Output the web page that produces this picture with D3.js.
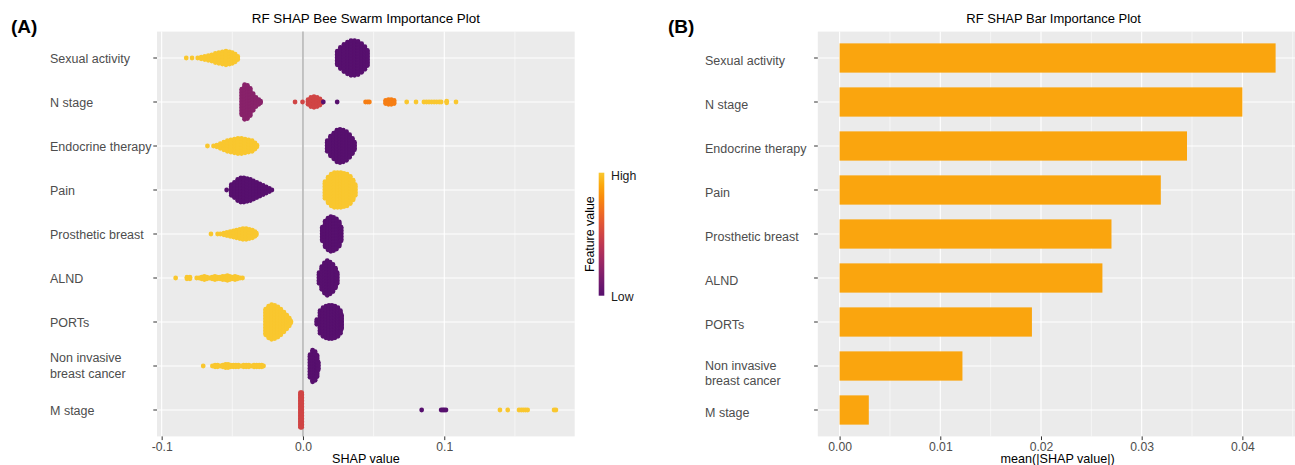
<!DOCTYPE html>
<head>
    <meta charset="utf-8">
    <script src="https://d3js.org/d3.v7.min.js"></script>
    <style>
        body {
            margin: 0;
            background: #fff;
        }
        svg {
            font-family: "Liberation Sans", Arial, sans-serif;
        }
    </style>
</head>

<body>
<svg id="chart" width="1295" height="465"></svg>
<script>

    const features = ["Sexual activity", "N stage", "Endocrine therapy", "Pain", "Prosthetic breast",
        "ALND", "PORTs", "Non invasive\nbreast cancer", "M stage"];
    const meanAbsShap = [0.0433, 0.0400, 0.0345, 0.0319, 0.0270, 0.0261, 0.0191, 0.0122, 0.0029];

    const shapTicks = [-0.1, 0, 0.1];
    const shapTickLabels = ["-0.1", "0.0", "0.1"];
    const shapMinor = [-0.05, 0.05, 0.15];
    const meanTicks = [0, 0.01, 0.02, 0.03, 0.04];
    const meanTickLabels = ["0.00", "0.01", "0.02", "0.03", "0.04"];
    const meanMinor = [0.005, 0.015, 0.025, 0.035, 0.045];

    // swarm bins per feature: level = feature value (0 low .. 1 high), bins = [SHAP value, number of points]
    const swarmSexual = [
        {level: 1, bins: [[-0.0826, 1], [-0.0785, 1], [-0.0745, 1], [-0.0720, 2], [-0.0695, 3], [-0.0670, 4], [-0.0645, 5],
                [-0.0620, 7], [-0.0595, 8], [-0.0570, 9], [-0.0545, 10], [-0.0520, 9], [-0.0500, 8], [-0.0480, 6], [-0.0462, 3]]},
        {level: 0, bins: [[0.0243, 10], [0.0265, 15], [0.0290, 19], [0.0315, 22], [0.0340, 24], [0.0365, 24], [0.0390, 23],
                [0.0415, 20], [0.0438, 16], [0.0456, 11]]}
    ];
    const swarmNStage = [
        {level: 0.2, bins: [[-0.0433, 18], [-0.0413, 24], [-0.0393, 23], [-0.0373, 19], [-0.0353, 12], [-0.0333, 7],
                [-0.0313, 4], [-0.0300, 2]]},
        {level: 0.5, bins: [[-0.0056, 1], [-0.0003, 1], [0.0036, 4], [0.0056, 7], [0.0078, 8], [0.0100, 7], [0.0120, 5], [0.0133, 2]]},
        {level: 0, bins: [[0.0144, 1], [0.0242, 1]]},
        {level: 0.75, bins: [[0.0443, 1], [0.0458, 1], [0.0470, 1], [0.0585, 3], [0.0605, 4], [0.0625, 4], [0.0645, 3]]},
        {level: 1, bins: [[0.0734, 1], [0.0800, 1], [0.0856, 1], [0.0874, 1], [0.0892, 1], [0.0910, 1], [0.0928, 1],
                [0.0946, 1], [0.0964, 1], [0.0978, 1], [0.1017, 2], [0.1083, 1]]}
    ];
    const swarmEndocrine = [
        {level: 1, bins: [[-0.0676, 1], [-0.0633, 1], [-0.0610, 2], [-0.0585, 4], [-0.0560, 6], [-0.0535, 8], [-0.0510, 9],
                [-0.0485, 10], [-0.0460, 11], [-0.0435, 11], [-0.0410, 10], [-0.0385, 9], [-0.0360, 8], [-0.0340, 5], [-0.0326, 2]]},
        {level: 0, bins: [[0.0172, 8], [0.0195, 14], [0.0218, 18], [0.0240, 22], [0.0262, 23], [0.0285, 22], [0.0308, 20],
                [0.0330, 16], [0.0350, 11], [0.0364, 6]]}
    ];
    const swarmPain = [
        {level: 0, bins: [[-0.0540, 1], [-0.0507, 8], [-0.0485, 11], [-0.0462, 15], [-0.0440, 17], [-0.0418, 17], [-0.0395, 16],
                [-0.0372, 15], [-0.0350, 13], [-0.0327, 11], [-0.0305, 9], [-0.0282, 7], [-0.0260, 5], [-0.0238, 3], [-0.0220, 1]]},
        {level: 1, bins: [[0.0156, 12], [0.0178, 18], [0.0200, 22], [0.0222, 24], [0.0245, 24], [0.0268, 24], [0.0290, 23],
                [0.0312, 22], [0.0335, 19], [0.0355, 14], [0.0370, 8]]}
    ];
    const swarmProsthetic = [
        {level: 1, bins: [[-0.0651, 1], [-0.0604, 1], [-0.0585, 1], [-0.0560, 2], [-0.0538, 3], [-0.0515, 4], [-0.0492, 5],
                [-0.0470, 6], [-0.0447, 7], [-0.0425, 8], [-0.0402, 8], [-0.0380, 7], [-0.0358, 6], [-0.0340, 4], [-0.0330, 2]]},
        {level: 0, bins: [[0.0137, 10], [0.0157, 18], [0.0177, 22], [0.0197, 24], [0.0217, 23], [0.0237, 21], [0.0257, 17],
                [0.0270, 10]]}
    ];
    const swarmALND = [
        {level: 1, bins: [[-0.0901, 1], [-0.0821, 2], [-0.0800, 2], [-0.0752, 1], [-0.0735, 1], [-0.0717, 2], [-0.0698, 3],
                [-0.0680, 2], [-0.0662, 1], [-0.0643, 2], [-0.0623, 3], [-0.0605, 2], [-0.0587, 2], [-0.0568, 3], [-0.0550, 3],
                [-0.0535, 4], [-0.0518, 3], [-0.0500, 2], [-0.0481, 3], [-0.0463, 2], [-0.0445, 1], [-0.0428, 1]]},
        {level: 0, bins: [[0.0114, 8], [0.0133, 16], [0.0152, 21], [0.0172, 24], [0.0192, 22], [0.0212, 19], [0.0230, 14],
                [0.0242, 8]]}
    ];
    const swarmPORTs = [
        {level: 1, bins: [[-0.0264, 18], [-0.0243, 22], [-0.0222, 24], [-0.0200, 23], [-0.0178, 21], [-0.0157, 18],
                [-0.0135, 14], [-0.0115, 10], [-0.0097, 6], [-0.0086, 2]]},
        {level: 0, bins: [[0.0098, 4], [0.0121, 16], [0.0142, 20], [0.0163, 22], [0.0184, 23], [0.0205, 23], [0.0226, 22],
                [0.0247, 20], [0.0265, 16], [0.0273, 10]]}
    ];
    const swarmNonInvasive = [
        {level: 1, bins: [[-0.0706, 1], [-0.0641, 1], [-0.0622, 2], [-0.0604, 2], [-0.0585, 1], [-0.0567, 2], [-0.0548, 3],
                [-0.0530, 3], [-0.0512, 2], [-0.0493, 2], [-0.0475, 2], [-0.0457, 2], [-0.0438, 1], [-0.0420, 2], [-0.0402, 2],
                [-0.0383, 2], [-0.0365, 1], [-0.0347, 2], [-0.0328, 2], [-0.0310, 2], [-0.0292, 2], [-0.0279, 1]]},
        {level: 0, bins: [[0.0050, 16], [0.0068, 22], [0.0086, 20], [0.0100, 15], [0.0108, 6]]}
    ];
    const swarmMStage = [
        {level: 0.5, bins: [[-0.0018, 24], [-0.0009, 24]]},
        {level: 0, bins: [[0.0840, 1], [0.0978, 1], [0.0990, 1], [0.1000, 1], [0.1012, 1]]},
        {level: 1, bins: [[0.1394, 1], [0.1449, 1], [0.1529, 1], [0.1545, 1], [0.1560, 1], [0.1575, 1], [0.1590, 1],
                [0.1777, 1], [0.1790, 1]]}
    ];
    const swarms = [swarmSexual, swarmNStage, swarmEndocrine, swarmPain, swarmProsthetic,
        swarmALND, swarmPORTs, swarmNonInvasive, swarmMStage];

    const svg = d3.select("#chart");
    const panelBg = "#EBEBEB", axisText = "#4D4D4D", tickCol = "#333333";
    const color = t => d3.interpolateInferno(0.25 + 0.62 * t);

    const A = {left: 157, right: 574.7, top: 31.6, bottom: 436.4};
    const B = {left: 817.8, right: 1297.4, top: 31.6, bottom: 436.4};

    const y = d3.scalePoint().domain(features).range([58, 410]);
    const xA = d3.scaleLinear().domain([-0.1033, 0.1923]).range([A.left, A.right]);
    const xB = d3.scaleLinear().domain([-0.002165, 0.045465]).range([B.left, B.right]);

    function panel(P, x, minor, major) {
        const g = svg.append("g");
        g.append("rect").attr("x", P.left).attr("y", P.top)
            .attr("width", P.right - P.left).attr("height", P.bottom - P.top).attr("fill", panelBg);
        g.selectAll(".minor").data(minor).enter().append("line")
            .attr("x1", d => x(d)).attr("x2", d => x(d)).attr("y1", P.top).attr("y2", P.bottom)
            .attr("stroke", "#fff").attr("stroke-width", 0.55);
        g.selectAll(".majorx").data(major).enter().append("line")
            .attr("x1", d => x(d)).attr("x2", d => x(d)).attr("y1", P.top).attr("y2", P.bottom)
            .attr("stroke", "#fff").attr("stroke-width", 1.1);
        g.selectAll(".majory").data(features).enter().append("line")
            .attr("x1", P.left).attr("x2", P.right).attr("y1", d => y(d)).attr("y2", d => y(d))
            .attr("stroke", "#fff").attr("stroke-width", 1.1);
        return g;
    }

    function xAxis(P, x, ticks, labels, title) {
        const ax = svg.append("g").attr("transform", "translate(0," + P.bottom + ")")
            .call(d3.axisBottom(x).tickValues(ticks).tickSize(3.7).tickPadding(1.8)
                .tickFormat((d, i) => labels[i]));
        ax.select(".domain").remove();
        ax.selectAll("line").attr("stroke", tickCol);
        ax.selectAll("text").attr("fill", axisText).style("font-size", "12.2px");
        svg.append("text").attr("x", (P.left + P.right) / 2).attr("y", 463)
            .attr("text-anchor", "middle").style("font-size", "12.6px").attr("fill", "#000").text(title);
    }

    function yLabels(P, labelX, dyOne, lineDy) {
        svg.selectAll(null).data(features).enter().append("line")
            .attr("x1", P.left - 3.7).attr("x2", P.left).attr("y1", d => y(d)).attr("y2", d => y(d))
            .attr("stroke", tickCol);
        features.forEach(f => {
            const lines = f.split("\n");
            const t = svg.append("text").attr("x", labelX).attr("fill", axisText).style("font-size", "12.5px");
            lines.forEach((l, i) => {
                const cy = lines.length === 1 ? y(f) + dyOne : y(f) + lineDy[i];
                t.append("tspan").attr("x", labelX).attr("y", cy).attr("dy", "0.35em").text(l);
            });
        });
    }

    // ---- panel A: bee swarm
    panel(A, xA, shapMinor, shapTicks);
    svg.append("line").attr("x1", xA(0)).attr("x2", xA(0)).attr("y1", A.top).attr("y2", A.bottom)
        .attr("stroke", "#A6A6A6").attr("stroke-width", 1.3);

    const points = [];
    swarms.forEach((groups, i) => groups.forEach(g => g.bins.forEach(([v, n]) => {
        for (let k = 0; k < n; k++) {
            points.push({feature: features[i], v: v, level: g.level, off: k - (n - 1) / 2});
        }
    })));
    svg.append("g").selectAll("circle").data(points).enter().append("circle")
        .attr("cx", d => xA(d.v))
        .attr("cy", d => y(d.feature) + d.off * 1.5)
        .attr("r", 2.4)
        .attr("fill", d => color(d.level));

    xAxis(A, xA, shapTicks, shapTickLabels, "SHAP value");
    yLabels(A, 50, 0.5, [-8.5, 8]);

    svg.append("text").attr("x", (A.left + A.right) / 2).attr("y", 23)
        .attr("text-anchor", "middle").style("font-size", "13.4px").text("RF SHAP Bee Swarm Importance Plot");
    svg.append("text").attr("x", 11).attr("y", 32.5)
        .style("font-size", "19px").style("font-weight", "bold").text("(A)");

    // legend
    const grad = svg.append("defs").append("linearGradient").attr("id", "fv")
        .attr("x1", 0).attr("x2", 0).attr("y1", 1).attr("y2", 0);
    d3.range(0, 1.001, 0.1).forEach(t => grad.append("stop").attr("offset", t).attr("stop-color", color(t)));
    svg.append("rect").attr("x", 598.7).attr("y", 172.7).attr("width", 5.6).attr("height", 123)
        .attr("fill", "url(#fv)");
    svg.append("text").attr("x", 611).attr("y", 175.7).attr("dy", "0.35em")
        .style("font-size", "12.3px").attr("fill", "#1a1a1a").text("High");
    svg.append("text").attr("x", 611).attr("y", 296.7).attr("dy", "0.35em")
        .style("font-size", "12.3px").attr("fill", "#1a1a1a").text("Low");
    svg.append("text").attr("transform", "translate(589.3,234.2) rotate(-90)").attr("dy", "0.35em")
        .attr("text-anchor", "middle").style("font-size", "12.4px").attr("fill", "#000").text("Feature value");

    // ---- panel B: bars
    panel(B, xB, meanMinor, meanTicks);
    const barH = y.step() * 0.665;
    svg.append("g").selectAll("rect").data(features).enter().append("rect")
        .attr("x", xB(0))
        .attr("y", d => y(d) - barH / 2)
        .attr("width", (d, i) => xB(meanAbsShap[i]) - xB(0))
        .attr("height", barH)
        .attr("fill", "#FAA50E");

    xAxis(B, xB, meanTicks, meanTickLabels, "mean(|SHAP value|)");
    yLabels(B, 705, 2.7, [0, 15]);

    svg.append("text").attr("x", (B.left + B.right) / 2 - 4).attr("y", 23)
        .attr("text-anchor", "middle").style("font-size", "13px").text("RF SHAP Bar Importance Plot");
    svg.append("text").attr("x", 668).attr("y", 32.5)
        .style("font-size", "19px").style("font-weight", "bold").text("(B)");

</script>
</body>
